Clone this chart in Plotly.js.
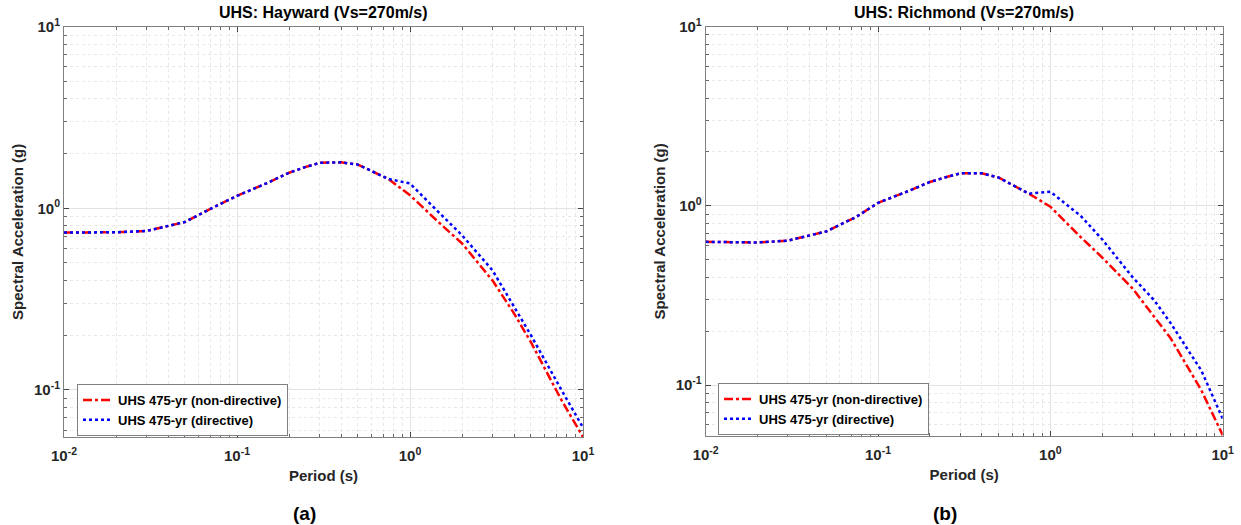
<!DOCTYPE html>
<html>
<head>
<meta charset="utf-8">
<script src="https://cdn.plot.ly/plotly-3.0.1.min.js"></script>
<style>html,body{margin:0;padding:0;background:#fff;}#chart{width:1241px;height:525px;}</style>
</head>
<body>
<div id="chart"></div>
<script>
// Periods (s)
const periods = [0.01, 0.02, 0.03, 0.05, 0.075, 0.1, 0.15, 0.2, 0.25, 0.3, 0.4, 0.5, 0.75, 1.0, 1.5, 2.0, 3.0, 4.0, 5.0, 7.5, 10.0];

// Hayward (Vs=270m/s)
const haywardNonDir = [0.735, 0.738, 0.75, 0.84, 1.025, 1.17, 1.38, 1.57, 1.69, 1.78, 1.79, 1.74, 1.45, 1.18, 0.82, 0.64, 0.40, 0.263, 0.183, 0.088, 0.055];
const haywardDir    = [0.735, 0.738, 0.75, 0.84, 1.025, 1.17, 1.38, 1.57, 1.69, 1.78, 1.79, 1.74, 1.45, 1.37, 0.93, 0.71, 0.455, 0.286, 0.20, 0.10, 0.062];

// Richmond (Vs=270m/s)
const richmondNonDir = [0.63, 0.625, 0.64, 0.72, 0.87, 1.04, 1.21, 1.36, 1.45, 1.52, 1.52, 1.44, 1.17, 0.99, 0.67, 0.515, 0.346, 0.24, 0.182, 0.094, 0.0526];
const richmondDir    = [0.63, 0.625, 0.64, 0.72, 0.87, 1.04, 1.21, 1.36, 1.45, 1.52, 1.52, 1.44, 1.17, 1.20, 0.88, 0.65, 0.40, 0.298, 0.221, 0.121, 0.065];

const seriesNames = ['UHS 475-yr (non-directive)', 'UHS 475-yr (directive)'];
const plotTitles = ['UHS: Hayward (Vs=270m/s)', 'UHS: Richmond (Vs=270m/s)'];
const panelLabels = ['(a)', '(b)'];
const xTickVals = [0.01, 0.1, 1, 10];
const xTickText = ['10<sup>-2</sup>', '10<sup>-1</sup>', '10<sup>0</sup>', '10<sup>1</sup>'];
const yTickVals = [0.1, 1, 10];
const yTickText = ['10<sup>-1</sup>', '10<sup>0</sup>', '10<sup>1</sup>'];

function minorVals(lo, hi) {
  const v = [];
  for (let d = lo; d < hi; d++) for (let k = 2; k <= 9; k++) v.push(k * Math.pow(10, d));
  return v;
}

const FONT = 'Liberation Sans, Arial, Helvetica, sans-serif';
const RED = '#ff0000', BLUE = '#0000ff';

const traces = [
  {x: periods, y: haywardNonDir, name: seriesNames[0], mode: 'lines', line: {color: RED, dash: 'dashdot', width: 2.5}, xaxis: 'x', yaxis: 'y', legend: 'legend'},
  {x: periods, y: haywardDir, name: seriesNames[1], mode: 'lines', line: {color: BLUE, dash: 'dot', width: 2.5}, xaxis: 'x', yaxis: 'y', legend: 'legend'},
  {x: periods, y: richmondNonDir, name: seriesNames[0], mode: 'lines', line: {color: RED, dash: 'dashdot', width: 2.5}, xaxis: 'x2', yaxis: 'y2', legend: 'legend2'},
  {x: periods, y: richmondDir, name: seriesNames[1], mode: 'lines', line: {color: BLUE, dash: 'dot', width: 2.5}, xaxis: 'x2', yaxis: 'y2', legend: 'legend2'}
];

const W = 1241, H = 525;
function xAxis(domain, anchor) {
  return {
    type: 'log', domain: domain, anchor: anchor, range: [-2, 1],
    tickmode: 'array', tickvals: xTickVals, ticktext: xTickText,
    ticks: 'inside', ticklen: 5, tickcolor: '#444', showline: true, linecolor: '#808080', linewidth: 1, mirror: 'ticks',
    showgrid: true, gridcolor: '#e3e3e3', gridwidth: 1,
    minor: {tickmode: 'array', tickvals: minorVals(-2, 1), ticks: 'inside', ticklen: 3, tickcolor: '#666', showgrid: true, gridcolor: '#e8e8e8', griddash: 'dot', gridwidth: 1},
    tickfont: {family: FONT, size: 15, color: '#262626', weight: 'bold'},
    ticklabelstandoff: 5,
    title: {text: 'Period (s)', font: {family: FONT, size: 15, color: '#262626', weight: 'bold'}, standoff: 7},
    zeroline: false, fixedrange: true
  };
}
function yAxis(domain, anchor, lo) {
  return {
    type: 'log', domain: domain, anchor: anchor, range: [Math.log10(lo), 1],
    tickmode: 'array', tickvals: yTickVals, ticktext: yTickText,
    ticks: 'inside', ticklen: 5, tickcolor: '#444', showline: true, linecolor: '#808080', linewidth: 1, mirror: 'ticks',
    showgrid: true, gridcolor: '#e3e3e3', gridwidth: 1,
    minor: {tickmode: 'array', tickvals: minorVals(-2, 1), ticks: 'inside', ticklen: 3, tickcolor: '#666', showgrid: true, gridcolor: '#e8e8e8', griddash: 'dot', gridwidth: 1},
    tickfont: {family: FONT, size: 15, color: '#262626', weight: 'bold'},
    title: {text: 'Spectral Acceleration (g)', font: {family: FONT, size: 15, color: '#262626', weight: 'bold'}, standoff: 6},
    zeroline: false, fixedrange: true
  };
}

const legendCommon = {
  bgcolor: '#ffffff', bordercolor: '#808080', borderwidth: 1,
  font: {family: FONT, size: 13, color: '#000', weight: 'bold'},
  xanchor: 'left', yanchor: 'top', tracegroupgap: 0, itemwidth: 30
};

const layout = {
  width: W, height: H,
  margin: {l: 0, r: 0, t: 0, b: 0},
  paper_bgcolor: '#ffffff', plot_bgcolor: '#ffffff',
  showlegend: true,
  xaxis: xAxis([64 / W, 583 / W], 'y'),
  yaxis: yAxis([(H - 437) / H, (H - 26.7) / H], 'x', 0.055),
  xaxis2: xAxis([705.7 / W, 1222.7 / W], 'y2'),
  yaxis2: yAxis([(H - 436) / H, (H - 26.7) / H], 'x2', 0.052),
  legend: Object.assign({}, legendCommon, {x: 77 / W, y: 1 - 384 / H}),
  legend2: Object.assign({}, legendCommon, {x: 718 / W, y: 1 - 383 / H}),
  annotations: [
    {text: plotTitles[0], x: 323.5 / W, y: 1 - 12 / H, xref: 'paper', yref: 'paper', showarrow: false, xanchor: 'center', yanchor: 'middle', font: {family: FONT, size: 16, color: '#000', weight: 'bold'}},
    {text: plotTitles[1], x: 964 / W, y: 1 - 12 / H, xref: 'paper', yref: 'paper', showarrow: false, xanchor: 'center', yanchor: 'middle', font: {family: FONT, size: 16, color: '#000', weight: 'bold'}},
    {text: panelLabels[0], x: 304 / W, y: 1 - 513 / H, xref: 'paper', yref: 'paper', showarrow: false, xanchor: 'center', yanchor: 'middle', font: {family: FONT, size: 19, color: '#000', weight: 'bold'}},
    {text: panelLabels[1], x: 945 / W, y: 1 - 513 / H, xref: 'paper', yref: 'paper', showarrow: false, xanchor: 'center', yanchor: 'middle', font: {family: FONT, size: 19, color: '#000', weight: 'bold'}}
  ]
};

Plotly.newPlot('chart', traces, layout, {displayModeBar: false, staticPlot: true});
</script>
</body>
</html>
